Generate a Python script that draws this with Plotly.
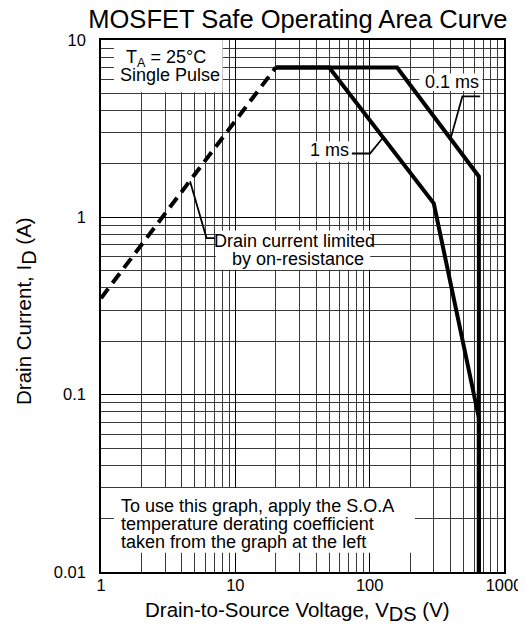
import plotly.graph_objects as go

# ---- data ----
ron_limit_v = [1, 20]
ron_limit_i = [0.35, 7]
pulse_01ms_v = [20, 160, 650, 650]
pulse_01ms_i = [7, 7, 1.7, 0.01]
pulse_1ms_v = [20, 50, 300, 650, 650]
pulse_1ms_i = [7, 7, 1.2, 0.074, 0.01]

x_ticks = [1, 10, 100, 1000]
x_tick_labels = ["1", "10", "100", "1000"]
y_ticks = [0.01, 0.1, 1, 10]
y_tick_labels = ["0.01", "0.1", "1", "10"]
minor_digits = [2, 3, 4, 5, 6, 7, 8, 9]

# leader lines (label elbow -> point on curve)
lead_01_v = [665, 490, 400]
lead_01_i = [4.81, 4.81, 2.77]
lead_1_v = [73.7, 100.5, 126]
lead_1_i = [2.29, 2.29, 2.82]
lead_ron_v = [7.04, 6.1, 4.6]
lead_ron_i = [0.764, 0.764, 1.6]

x_minor = [d * 10 ** e for e in range(0, 3) for d in minor_digits]
y_minor = [d * 10 ** e for e in range(-2, 1) for d in minor_digits]

FONT = "Liberation Sans, Arial, sans-serif"
fig = go.Figure()

line_w = 4
fig.add_trace(go.Scatter(x=ron_limit_v, y=ron_limit_i, mode="lines",
                         line=dict(color="black", width=line_w, dash="12px,7px"),
                         showlegend=False, hoverinfo="skip"))
fig.add_trace(go.Scatter(x=pulse_01ms_v, y=pulse_01ms_i, mode="lines",
                         line=dict(color="black", width=line_w), showlegend=False))
fig.add_trace(go.Scatter(x=pulse_1ms_v, y=pulse_1ms_i, mode="lines",
                         line=dict(color="black", width=line_w), showlegend=False))
for lv, li in [(lead_01_v, lead_01_i), (lead_1_v, lead_1_i), (lead_ron_v, lead_ron_i)]:
    fig.add_trace(go.Scatter(x=lv, y=li, mode="lines",
                             line=dict(color="black", width=1.8), showlegend=False))

grid_col = "#3a3a3a"
fig.update_xaxes(type="log", range=[0, 3], tickvals=x_ticks, ticktext=x_tick_labels,
                 showgrid=True, gridcolor="black", gridwidth=1.3,
                 minor=dict(tickvals=x_minor, showgrid=True, gridcolor=grid_col, gridwidth=1.3, ticks=""),
                 showline=True, linecolor="black", linewidth=1.5, mirror=True,
                 ticks="", ticklabelstandoff=-3,
                 tickfont=dict(size=16.5, color="black", family=FONT),
                 zeroline=False)
fig.update_yaxes(type="log", range=[-2, 1], tickvals=y_ticks, ticktext=y_tick_labels,
                 showgrid=True, gridcolor="black", gridwidth=1.3,
                 minor=dict(tickvals=y_minor, showgrid=True, gridcolor=grid_col, gridwidth=1.3, ticks=""),
                 showline=True, linecolor="black", linewidth=1.5, mirror=True,
                 ticks="", ticklabelstandoff=10,
                 tickfont=dict(size=16.5, color="black", family=FONT),
                 zeroline=False)

# white label boxes (paper coords of the plot area)
label_boxes = [
    (0.032, 0.302, 0.902, 1.0),
    (0.285, 0.668, 0.568, 0.642),
    (0.790, 0.946, 0.904, 0.937),
    (0.511, 0.618, 0.771, 0.809),
    (0.032, 0.779, 0.036, 0.158),
]
for x0, x1, y0, y1 in label_boxes:
    fig.add_shape(type="rect", xref="paper", yref="paper", x0=x0, x1=x1, y0=y0, y1=y1,
                  fillcolor="white", line=dict(width=0), layer="above")

ann_font = dict(family=FONT, color="black", size=18)
center_labels = [
    ("T<sub>A</sub> = 25°C", 0.162, 0.965),
    ("Single Pulse", 0.172, 0.934),
    ("0.1 ms", 0.870, 0.921),
    ("1 ms", 0.566, 0.793),
    ("Drain current limited", 0.480, 0.622),
    ("by on-resistance", 0.489, 0.588),
]
for txt, px, py in center_labels:
    fig.add_annotation(x=px, y=py, xref="paper", yref="paper", showarrow=False,
                       text=txt, font=ann_font, xanchor="center", yanchor="middle")
note_lines = [
    ("To use this graph, apply the S.O.A", 0.124),
    ("temperature derating coefficient", 0.0906),
    ("taken from the graph at the left", 0.0563),
]
for txt, py in note_lines:
    fig.add_annotation(x=0.044, y=py, xref="paper", yref="paper", showarrow=False,
                       text=txt, font=ann_font, xanchor="left", yanchor="middle")

# axis titles
title_font = dict(family=FONT, color="black", size=20.5)
fig.add_annotation(x=0.4865, y=-0.075, xref="paper", yref="paper", showarrow=False,
                   text="Drain-to-Source Voltage, V<sub><span style='font-size:20px'>DS</span></sub> (V)",
                   font=title_font, xanchor="center", yanchor="middle")
fig.add_annotation(x=-0.187, y=0.49, xref="paper", yref="paper", showarrow=False,
                   text="Drain Current, I<sub><span style='font-size:20px'>D</span></sub> (A)",
                   font=title_font, textangle=-90, xanchor="center", yanchor="middle")

fig.update_layout(
    width=526, height=628,
    margin=dict(l=93, r=26, t=31.5, b=64),
    paper_bgcolor="white", plot_bgcolor="white",
    title=dict(text="MOSFET Safe Operating Area Curve", x=0.551, xanchor="center",
               y=0.983, yanchor="middle", font=dict(size=25.5, color="black", family=FONT)),
    showlegend=False,
)
fig.write_html("out.html")
